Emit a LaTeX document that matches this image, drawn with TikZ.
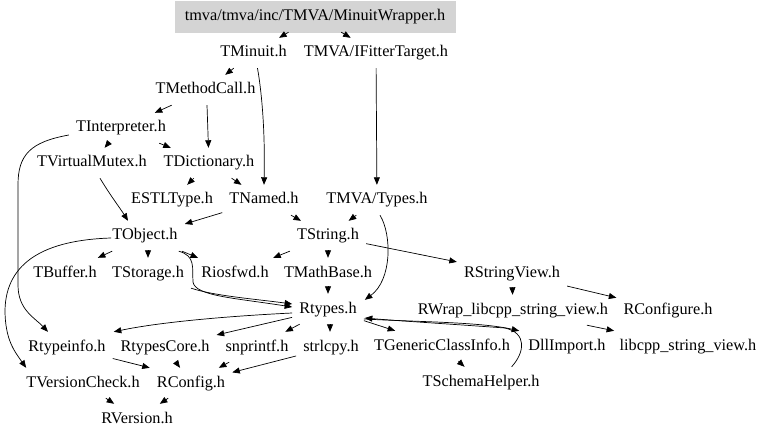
\documentclass[tikz,border=0pt]{standalone}
\usepackage{fontspec}
\setmainfont{Liberation Serif}
\usetikzlibrary{arrows.meta,calc}
\begin{document}
\begin{tikzpicture}[x=1pt,y=-1pt,
  hdr/.style={rectangle,inner xsep=7pt,minimum height=30pt,text height=11.5pt,text depth=3.5pt,font=\fontsize{16.25}{19}\selectfont},
  rootbox/.style={hdr,fill=black!17,draw=black!17,minimum height=31pt,minimum width=280pt},
  dep/.style={draw=black,line width=0.7pt,-{Triangle[length=7.5pt,width=6pt]}}]
\useasboundingbox (0,0) rectangle (768,438);
\fill[white] (0,0) rectangle (768,438);
% nodes
\node[rootbox] (root) at (315,16.5) {tmva/tmva/inc/TMVA/MinuitWrapper.h};
\node[hdr] (TMinuit) at (253.5,53) {TMinuit.h};
\node[hdr] (IFitter) at (376,53) {TMVA/IFitterTarget.h};
\node[hdr] (TMethodCall) at (205.5,90) {TMethodCall.h};
\node[hdr] (TInterpreter) at (121,128) {TInterpreter.h};
\node[hdr] (TVirtualMutex) at (92,163) {TVirtualMutex.h};
\node[hdr] (TDictionary) at (209,163) {TDictionary.h};
\node[hdr] (ESTLType) at (172,200) {ESTLType.h};
\node[hdr] (TNamed) at (264,200) {TNamed.h};
\node[hdr] (Types) at (377,200) {TMVA/Types.h};
\node[hdr] (TObject) at (145,236) {TObject.h};
\node[hdr] (TString) at (328,236) {TString.h};
\node[hdr] (RStringView) at (512,273) {RStringView.h};
\node[hdr] (TBuffer) at (65,273) {TBuffer.h};
\node[hdr] (TStorage) at (148,273) {TStorage.h};
\node[hdr] (Riosfwd) at (235,273) {Riosfwd.h};
\node[hdr] (TMathBase) at (328,273) {TMathBase.h};
\node[hdr] (Rtypes) at (328,309) {Rtypes.h};
\node[hdr] (RWrap) at (513,310) {RWrap\_libcpp\_string\_view.h};
\node[hdr] (RConfigure) at (668,310) {RConfigure.h};
\node[hdr] (Rtypeinfo) at (67,347) {Rtypeinfo.h};
\node[hdr] (RtypesCore) at (165,347) {RtypesCore.h};
\node[hdr] (snprintf) at (257,347) {snprintf.h};
\node[hdr] (strlcpy) at (331,347) {strlcpy.h};
\node[hdr] (TGCI) at (442,346) {TGenericClassInfo.h};
\node[hdr] (DllImport) at (567,346) {DllImport.h};
\node[hdr] (libcpp) at (688,346) {libcpp\_string\_view.h};
\node[hdr] (TVersionCheck) at (83,383) {TVersionCheck.h};
\node[hdr] (RConfig) at (191,383) {RConfig.h};
\node[hdr] (TSchemaHelper) at (481,382) {TSchemaHelper.h};
\node[hdr] (RVersion) at (137,419) {RVersion.h};
% edges
\draw[dep] (root) -- (TMinuit);
\draw[dep] (root) -- (IFitter);
\draw[dep] (TMinuit) -- (TMethodCall);
\draw[dep] ($(TMinuit.south)+(4,0)$) .. controls (263,100) and (265,140) .. (TNamed.north);
\draw[dep] (IFitter) -- (Types);
\draw[dep] (TMethodCall) -- (TInterpreter);
\draw[dep] ($(TMethodCall.south)+(1.5,0)$) -- (TDictionary);
\draw[dep] (TInterpreter) -- (TVirtualMutex);
\draw[dep] (TInterpreter) -- (TDictionary);
\draw[dep] ($(TInterpreter.west)+(0,7)$) .. controls (30,142) and (18,155) .. (18,185)
   -- (18,285) .. controls (18,310) and (35,318) .. ($(Rtypeinfo.north)+(-19,0)$);
\draw[dep] (TDictionary) -- (ESTLType);
\draw[dep] (TDictionary) -- (TNamed);
\draw[dep] ($(TVirtualMutex.south)+(8,0)$) .. controls (110,195) and (120,208) .. ($(TObject.north)+(-17,0)$);
\draw[dep] (TNamed) -- (TObject);
\draw[dep] (TNamed) -- (TString);
\draw[dep] (Types) -- (TString);
\draw[dep] ($(Types.south)+(3,0)$) .. controls (392,235) and (392,280) .. ($(Rtypes.north east)+(1,6)$);
\draw[dep] (TObject) -- (TBuffer);
\draw[dep] ($(TObject.south)+(3,0)$) -- ($(TStorage.north)+(0,0)$);
\draw[dep] (TObject) -- (Riosfwd);
\draw[dep] ($(TObject.south east)+(-6,0)$) .. controls (196,256) and (192,268) .. (193,282)
   .. controls (195,296) and (235,298) .. ($(Rtypes.west)+(0,-2)$);
\draw[dep] (TStorage.south east) .. controls (215,296) and (255,299) .. ($(Rtypes.west)+(0,-5)$);
\draw[dep] ($(TObject.west)+(6,2)$) .. controls (45,240) and (6,262) .. (5,310)
   .. controls (5,340) and (15,352) .. ($(TVersionCheck.north west)+(7,0)$);
\draw[dep] (TString) -- (Riosfwd);
\draw[dep] (TString) -- (TMathBase);
\draw[dep] (TString) -- (RStringView);
\draw[dep] (TMathBase) -- (Rtypes);
\draw[dep] (RStringView) -- (RWrap);
\draw[dep] (RStringView) -- (RConfigure);
\draw[dep] (RWrap) -- (libcpp);
\draw[dep] ($(Rtypes.west)+(0,4)$) .. controls (230,316) and (160,322) .. ($(Rtypeinfo.north east)+(1,0)$);
\draw[dep] (Rtypes) -- (RtypesCore);
\draw[dep] (Rtypes) -- (snprintf);
\draw[dep] ($(Rtypes.south)+(2,0)$) -- ($(strlcpy.north)+(-1,0)$);
\draw[dep] (Rtypes) -- (TGCI);
\draw[dep] ($(Rtypes.east)+(0,10)$) .. controls (420,322) and (480,322) .. ($(DllImport.north west)+(-2,0)$);
\draw[dep] ($(TSchemaHelper.north east)+(-35,0)$) .. controls (525,352) and (527,333) .. (505,328)
   .. controls (450,324) and (400,321) .. ($(Rtypes.east)+(1,9)$);
\draw[dep] (TGCI) -- (TSchemaHelper);
\draw[dep] (Rtypeinfo) -- (RConfig.north west);
\draw[dep] (RtypesCore) -- (RConfig);
\draw[dep] (snprintf) -- (RConfig);
\draw[dep] (strlcpy) -- (RConfig);
\draw[dep] (TVersionCheck) -- (RVersion);
\draw[dep] (RConfig) -- (RVersion);
\end{tikzpicture}
\end{document}
